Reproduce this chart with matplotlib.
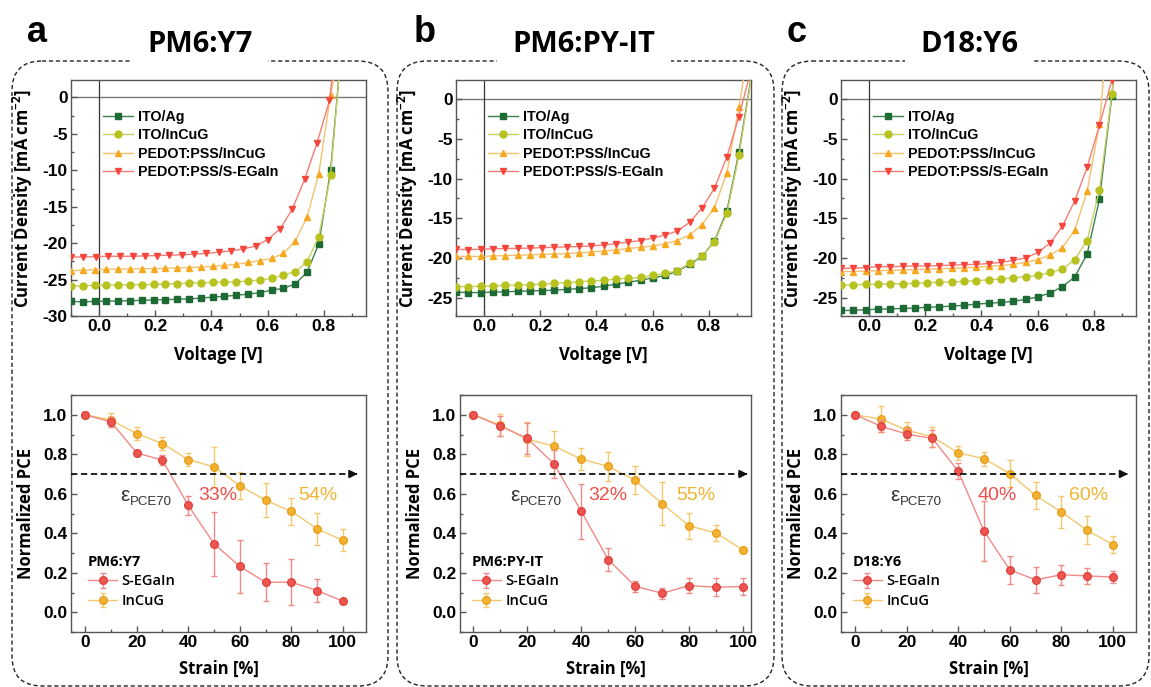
import matplotlib
matplotlib.use("Agg")
import matplotlib.pyplot as plt
from matplotlib.patches import FancyBboxPatch
from matplotlib.ticker import MultipleLocator

plt.rcParams['font.family'] = ['Liberation Sans', 'DejaVu Sans']
plt.rcParams['mathtext.fontset'] = 'custom'
plt.rcParams['mathtext.rm'] = 'Open Sans'
plt.rcParams['mathtext.bf'] = 'Open Sans:bold'
plt.rcParams['axes.unicode_minus'] = False

# ---------------- J-V data (voltage [V], current density [mA cm-2]) ----------------
labels_jv = ['ITO/Ag', 'ITO/InCuG', 'PEDOT:PSS/InCuG', 'PEDOT:PSS/S-EGaIn']

# panel a  PM6:Y7
va_red = [-0.100, -0.056, -0.012, 0.031, 0.075, 0.119, 0.163, 0.207, 0.250, 0.294, 0.338, 0.382,
          0.426, 0.469, 0.513, 0.557, 0.601, 0.645, 0.688, 0.732, 0.776, 0.820, 0.835]
va_grid = [-0.100, -0.058, -0.016, 0.026, 0.068, 0.110, 0.152, 0.194, 0.236, 0.278, 0.320, 0.362,
           0.404, 0.446, 0.488, 0.530, 0.572, 0.614, 0.656, 0.698, 0.740, 0.782, 0.824]
ja_ag = [-28.0, -28.05, -28.0, -27.95, -27.95, -27.9, -27.85, -27.8, -27.75, -27.7, -27.65, -27.55,
         -27.4, -27.3, -27.15, -27.0, -26.8, -26.45, -26.2, -25.6, -24.0, -20.1, -10.0, 5.6]
ja_incug = [-25.9, -25.85, -25.8, -25.75, -25.75, -25.7, -25.7, -25.65, -25.6, -25.55, -25.5, -25.45,
            -25.4, -25.35, -25.3, -25.2, -25.05, -24.85, -24.4, -23.9, -22.6, -19.1, -10.7, 5.6]
ja_pedot_incug = [-23.8, -23.7, -23.65, -23.6, -23.55, -23.55, -23.5, -23.5, -23.45, -23.4, -23.35, -23.3,
                  -23.2, -23.05, -22.9, -22.65, -22.4, -22.1, -21.4, -19.75, -16.45, -10.45, 0.4, 4.2]
ja_pedot_egain = [-21.9, -21.9, -21.85, -21.8, -21.8, -21.8, -21.75, -21.7, -21.65, -21.6, -21.5, -21.4,
                  -21.25, -21.05, -20.8, -20.4, -19.5, -18.0, -15.3, -11.2, -6.2, -0.4, 4.5]
va_ag = va_grid + [0.860]
va_incug = va_grid + [0.860]
va_pedot_incug = va_grid + [0.845]

# panel b  PM6:PY-IT
vb_grid = [-0.100, -0.056, -0.012, 0.031, 0.075, 0.119, 0.163, 0.207, 0.250, 0.294, 0.338, 0.382,
           0.426, 0.469, 0.513, 0.557, 0.601, 0.645, 0.688, 0.732, 0.776, 0.820, 0.864, 0.907]
jb_ag = [-24.3, -24.35, -24.35, -24.3, -24.25, -24.2, -24.15, -24.1, -24.05, -23.95, -23.85, -23.75,
         -23.55, -23.3, -23.05, -22.8, -22.5, -22.2, -21.65, -20.8, -19.8, -17.85, -14.1, -6.7, 3.7]
jb_incug = [-23.6, -23.6, -23.55, -23.5, -23.45, -23.4, -23.35, -23.3, -23.2, -23.1, -23.0, -22.9,
            -22.8, -22.65, -22.55, -22.45, -22.2, -21.95, -21.6, -20.65, -19.75, -17.95, -14.4, -7.1, 3.5]
jb_pedot_incug = [-19.8, -19.8, -19.8, -19.75, -19.7, -19.65, -19.6, -19.55, -19.5, -19.45, -19.35, -19.25,
                  -19.1, -19.0, -18.8, -18.65, -18.5, -18.2, -17.8, -17.1, -15.8, -13.65, -9.3, -1.05, 6.2]
jb_pedot_egain = [-18.9, -18.95, -18.9, -18.85, -18.8, -18.8, -18.75, -18.7, -18.65, -18.6, -18.55, -18.5,
                  -18.35, -18.2, -18.0, -17.8, -17.5, -17.1, -16.6, -15.5, -13.7, -11.2, -7.3, -2.2, 3.6]
vb_ag = vb_grid + [0.955]
vb_incug = vb_grid + [0.955]
vb_pedot_incug = vb_grid + [0.940]
vb_pedot_egain = vb_grid + [0.950]

# panel c  D18:Y6
vc_grid = [-0.100, -0.056, -0.012, 0.031, 0.075, 0.119, 0.163, 0.207, 0.250, 0.294, 0.338, 0.382,
           0.426, 0.469, 0.513, 0.557, 0.601, 0.645, 0.688, 0.732, 0.776, 0.820]
jc_ag = [-26.6, -26.6, -26.5, -26.45, -26.4, -26.35, -26.3, -26.2, -26.15, -26.05, -25.95, -25.8,
         -25.7, -25.6, -25.45, -25.2, -24.9, -24.4, -23.6, -22.4, -19.5, -12.6, 0.4, 6.0]
jc_incug = [-23.4, -23.4, -23.3, -23.3, -23.25, -23.25, -23.2, -23.1, -23.05, -23.0, -22.95, -22.85,
            -22.75, -22.65, -22.5, -22.35, -22.2, -21.8, -21.4, -20.2, -17.8, -11.4, 0.6, 6.0]
jc_pedot_incug = [-21.7, -21.7, -21.65, -21.6, -21.55, -21.5, -21.45, -21.4, -21.35, -21.3, -21.25, -21.15,
                  -21.05, -20.95, -20.8, -20.55, -20.2, -19.6, -18.7, -16.5, -11.6, -3.15, 7.0]
jc_pedot_egain = [-21.3, -21.3, -21.2, -21.1, -21.1, -21.05, -21.0, -21.0, -20.95, -20.9, -20.85, -20.8,
                  -20.7, -20.55, -20.3, -20.0, -19.3, -18.1, -16.0, -12.8, -8.6, -3.3, 2.4, 6.5]
vc_ag = vc_grid + [0.864, 0.880]
vc_incug = vc_grid + [0.864, 0.880]
vc_pedot_incug = vc_grid + [0.845]
vc_pedot_egain = vc_grid + [0.864, 0.885]

# ---------------- normalized PCE vs strain ----------------
strain = [0, 10, 20, 30, 40, 50, 60, 70, 80, 90, 100]
a_egain = [1.0, 0.964, 0.807, 0.77, 0.541, 0.347, 0.232, 0.152, 0.152, 0.11, 0.056]
a_egain_err = [0.0, 0.025, 0.015, 0.025, 0.047, 0.162, 0.135, 0.095, 0.116, 0.06, 0.008]
a_incug = [1.0, 0.973, 0.905, 0.854, 0.773, 0.736, 0.641, 0.567, 0.511, 0.423, 0.364]
a_incug_err = [0.0, 0.037, 0.035, 0.035, 0.035, 0.1, 0.07, 0.085, 0.07, 0.08, 0.055]
b_egain = [1.0, 0.942, 0.88, 0.75, 0.511, 0.267, 0.132, 0.096, 0.135, 0.127, 0.13]
b_egain_err = [0.0, 0.05, 0.08, 0.07, 0.14, 0.06, 0.028, 0.028, 0.04, 0.045, 0.045]
b_incug = [1.0, 0.947, 0.876, 0.841, 0.775, 0.739, 0.668, 0.55, 0.438, 0.401, 0.316]
b_incug_err = [0.0, 0.055, 0.085, 0.075, 0.055, 0.073, 0.07, 0.11, 0.065, 0.04, 0.015]
c_egain = [1.0, 0.942, 0.902, 0.88, 0.714, 0.411, 0.215, 0.164, 0.19, 0.184, 0.178]
c_egain_err = [0.0, 0.03, 0.03, 0.045, 0.04, 0.15, 0.07, 0.065, 0.05, 0.04, 0.03]
c_incug = [1.0, 0.978, 0.922, 0.888, 0.807, 0.778, 0.702, 0.592, 0.508, 0.415, 0.343]
c_incug_err = [0.0, 0.065, 0.04, 0.05, 0.035, 0.035, 0.07, 0.07, 0.08, 0.07, 0.045]

panel_letters = ['a', 'b', 'c']
panel_titles = ['PM6:Y7', 'PM6:PY-IT', 'D18:Y6']
crit_egain = ['33%', '32%', '40%']
crit_incug = ['54%', '55%', '60%']

# styles: (marker, marker colour, line colour)
jv_styles = [('s', '#1d6a35', '#3d7f55'),
             ('o', '#b7c21f', '#c8cf63'),
             ('^', '#f6a81e', '#f5c070'),
             ('v', '#f4463c', '#f37d75')]
RED_M, RED_L = '#ee5450', '#f08a86'
ORA_M, ORA_L = '#f3b130', '#f3c86f'

W, H = 1151, 687
fig = plt.figure(figsize=(W / 100, H / 100), dpi=100)


def px_axes(x, y, w, h):
    return fig.add_axes([x / W, 1 - (y + h) / H, w / W, h / H])


# overlay for boxes and titles, in pixel coordinates
ov = fig.add_axes([0, 0, 1, 1], zorder=0)
ov.set_xlim(0, W)
ov.set_ylim(H, 0)
ov.axis('off')

boxes = [(12, 388), (397, 774), (782, 1149)]
title_x = [200, 584, 969]
letter_x = [37, 425, 797]
for i, (x0, x1) in enumerate(boxes):
    ov.add_patch(FancyBboxPatch((x0 + 30, 61 + 30), x1 - x0 - 60, 625 - 60,
                                boxstyle='round,pad=30', fill=False, ec='#222222',
                                lw=1.0, ls=(0, (3, 2))))
    ov.text(title_x[i], 44, panel_titles[i], ha='center', va='center', fontsize=21,
            fontweight='bold', family='Open Sans', zorder=5,
            bbox=dict(fc='white', ec='none', pad=11))
    ov.text(letter_x[i], 33, panel_letters[i], ha='center', va='center', fontsize=26,
            fontweight='bold', zorder=5)


def style_axes(ax):
    for s in ax.spines.values():
        s.set_color('#555555')
        s.set_linewidth(1.0)
    ax.tick_params(which='both', direction='in', pad=2.5)
    ax.tick_params(labelsize=12.5, width=1, color='#555555', length=4)
    ax.tick_params(which='minor', width=1, color='#555555', length=2.5)
    for t in ax.get_xticklabels() + ax.get_yticklabels():
        t.set_fontweight('bold')


def jv_panel(ax, volts, currents, ylim, ymin_tick):
    ax.axhline(0, color='#777777', lw=1.0, zorder=1)
    ax.axvline(0, color='#333333', lw=0.9, zorder=1)
    for k in range(4):
        m, mc, lc = jv_styles[k]
        n = len(volts[k])
        mark = [j for j in range(n) if currents[k][j] <= ylim[1] + 0.3]
        ax.plot(volts[k], currents[k], color=lc, lw=1.0, marker=m, ms=5, mfc=mc, mec=mc,
                markevery=mark, label=labels_jv[k], zorder=3)
    ax.set_xlim(-0.1, 0.95)
    ax.set_ylim(*ylim)
    ax.set_xticks([0.0, 0.2, 0.4, 0.6, 0.8])
    ax.xaxis.set_minor_locator(MultipleLocator(0.1))
    ax.set_yticks(list(range(0, ymin_tick - 1, -5)))
    ax.yaxis.set_minor_locator(MultipleLocator(2.5))
    style_axes(ax)
    ax.set_xlabel('Voltage [V]', fontsize=12, fontweight='bold', family='Open Sans', labelpad=8)
    ax.set_ylabel(r'Current Density [mA cm$^{\mathbf{-2}}$]', fontsize=12, fontweight='bold',
                  family='Open Sans', labelpad=5)
    ax.legend(loc='upper left', bbox_to_anchor=(0.11, 0.872), frameon=False,
              handlelength=2.1, handletextpad=0.3, labelspacing=0.3, borderpad=0,
              borderaxespad=0, prop=dict(size=10.3, weight='bold'))


def pce_panel(ax, egain, egain_err, incug, incug_err, xlim, arrow_end, title, p1, p2, p1x, p2x, leg_x):
    ax.errorbar(strain, incug, yerr=incug_err, color=ORA_L, lw=1.0, marker='o', ms=5.5,
                mfc=ORA_M, mec='#e9a020', ecolor=ORA_L, elinewidth=1.0, capsize=2.5, label='InCuG',
                zorder=3)
    ax.errorbar(strain, egain, yerr=egain_err, color=RED_L, lw=1.0, marker='o', ms=5.5,
                mfc=RED_M, mec='#e04440', ecolor=RED_L, elinewidth=1.0, capsize=2.5, label='S-EGaIn',
                zorder=4)
    ax.plot([xlim[0], arrow_end - 2], [0.7, 0.7], color='#111111', lw=1.3, ls=(0, (3.5, 2)), zorder=5)
    ax.annotate('', xy=(arrow_end, 0.7), xytext=(arrow_end - 3, 0.7),
                arrowprops=dict(arrowstyle='-|>', color='#111111', lw=1.2, mutation_scale=12), zorder=5)
    ax.text(13.5, 0.59, 'ε', fontsize=15, color='#333333', va='center', ha='left')
    ax.text(17.2, 0.56, 'PCE70', fontsize=9.5, color='#333333', va='center', ha='left')
    ax.text(p1x, 0.59, p1, fontsize=14, color='#ef4f4a', ha='center', va='center')
    ax.text(p2x, 0.59, p2, fontsize=14, color='#f2b330', ha='center', va='center')
    ax.set_xlim(*xlim)
    ax.set_ylim(-0.1, 1.1)
    ax.set_xticks([0, 20, 40, 60, 80, 100])
    ax.xaxis.set_minor_locator(MultipleLocator(10))
    ax.set_yticks([0.0, 0.2, 0.4, 0.6, 0.8, 1.0])
    ax.yaxis.set_minor_locator(MultipleLocator(0.1))
    style_axes(ax)
    ax.set_xlabel('Strain [%]', fontsize=12, fontweight='bold', family='Open Sans', labelpad=7)
    ax.set_ylabel('Normalized PCE', fontsize=12, fontweight='bold', family='Open Sans', labelpad=6)
    h, l = ax.get_legend_handles_labels()
    leg = ax.legend(h[::-1], l[::-1], title=title, loc='lower left', bbox_to_anchor=(leg_x, 0.1),
                    frameon=False, handlelength=2.0, handletextpad=0.3, labelspacing=0.4,
                    borderpad=0, borderaxespad=0,
                    prop=dict(size=10.5, family='Open Sans', weight='semibold'),
                    title_fontproperties=dict(size=10.5, weight='bold', family='Open Sans'))
    leg._legend_box.align = 'left'


# top row
ax_a = px_axes(71, 80, 295, 236)
jv_panel(ax_a, [va_ag, va_incug, va_pedot_incug, va_red],
         [ja_ag, ja_incug, ja_pedot_incug, ja_pedot_egain], (-30, 2.4), -30)
ax_b = px_axes(456, 80, 295, 236)
jv_panel(ax_b, [vb_ag, vb_incug, vb_pedot_incug, vb_pedot_egain],
         [jb_ag, jb_incug, jb_pedot_incug, jb_pedot_egain], (-27.3, 2.4), -25)
ax_c = px_axes(841, 80, 295, 236)
jv_panel(ax_c, [vc_ag, vc_incug, vc_pedot_incug, vc_pedot_egain],
         [jc_ag, jc_incug, jc_pedot_incug, jc_pedot_egain], (-27.3, 2.4), -25)

# bottom row
bx_a = px_axes(71, 395, 295, 237)
pce_panel(bx_a, a_egain, a_egain_err, a_incug, a_incug_err, (-5.5, 109), 106.8,
          panel_titles[0], crit_egain[0], crit_incug[0], 51.6, 90.3, 0.058)
bx_b = px_axes(460, 395, 291, 237)
pce_panel(bx_b, b_egain, b_egain_err, b_incug, b_incug_err, (-5, 103), 102.8,
          panel_titles[1], crit_egain[1], crit_incug[1], 50.0, 82.4, 0.04)
bx_c = px_axes(841, 395, 295, 237)
pce_panel(bx_c, c_egain, c_egain_err, c_incug, c_incug_err, (-5.5, 109), 107,
          panel_titles[2], crit_egain[2], crit_incug[2], 55.2, 90.7, 0.04)

fig.savefig('out.png', dpi=100)
